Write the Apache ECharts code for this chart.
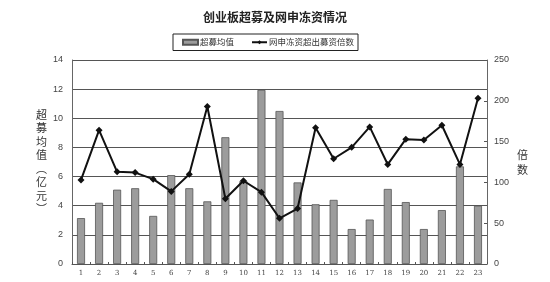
<!DOCTYPE html>
<html>
<head>
<meta charset="utf-8">
<script src="https://cdn.jsdelivr.net/npm/echarts@6/dist/echarts.min.js"></script>
<style>
  html, body { margin: 0; padding: 0; background: #fff; }
  #chart { width: 550px; height: 282px; }
</style>
</head>
<body>
<div id="chart"></div>
<script>
// Batch numbers 1..23
const categories = ['1','2','3','4','5','6','7','8','9','10','11','12','13','14','15','16','17','18','19','20','21','22','23'];
// Average over-raised funds per company (100 million yuan)
const overRaiseAvg = [3.15, 4.2, 5.1, 5.2, 3.3, 6.1, 5.2, 4.3, 8.7, 5.7, 11.95, 10.5, 5.6, 4.1, 4.4, 2.4, 3.05, 5.15, 4.25, 2.4, 3.7, 6.7, 4.0];
// Frozen online subscription funds as a multiple of funds raised
const frozenMultiple = [103, 164, 113, 112, 104, 89, 110, 193, 80, 102, 88, 56, 68, 167, 129, 143, 168, 122, 153, 152, 170, 122, 203];

const leftTitle = ['超', '募', '均', '值', '︵', '亿', '元', '︶'];
const rightTitle = ['倍', '数'];

const cjk = '"Noto Sans CJK SC", "Noto Sans", sans-serif';
const chart = echarts.init(document.getElementById('chart'), null, { renderer: 'canvas' });

chart.setOption({
  animation: false,
  backgroundColor: '#ffffff',
  title: {
    text: '创业板超募及网申冻资情况',
    left: 'center',
    top: 6,
    textStyle: { fontFamily: cjk, fontSize: 12, fontWeight: 'bold', color: '#222' }
  },
  legend: {
    top: 34,
    left: 173,
    itemWidth: 15,
    itemHeight: 5,
    itemGap: 17,
    padding: [4, 4, 4, 9],
    borderColor: '#222',
    borderWidth: 1,
    borderRadius: 0,
    textStyle: { fontFamily: cjk, fontSize: 8.5, color: '#333', padding: [0, 0, 0, -3] },
    data: [
      { name: '超募均值', icon: 'rect' },
      { name: '网申冻资超出募资倍数' }
    ]
  },
  grid: { left: 72, right: 63, top: 60, bottom: 18 },
  xAxis: {
    type: 'category',
    data: categories,
    axisLine: { lineStyle: { color: '#555', width: 1 } },
    axisTick: { show: true, inside: true, length: 2, lineStyle: { color: '#555' } },
    axisLabel: { fontFamily: '"DejaVu Serif", serif', fontSize: 7, color: '#444', margin: 6 }
  },
  yAxis: [
    {
      type: 'value',
      min: 0, max: 14, interval: 2,
      name: leftTitle.join('\n'),
      nameLocation: 'middle',
      nameRotate: 0,
      nameGap: 23,
      nameTextStyle: { fontFamily: cjk, fontSize: 11, color: '#333', lineHeight: 13.5 },
      axisLine: { show: true, lineStyle: { color: '#666' } },
      axisTick: { show: false },
      axisLabel: { fontFamily: '"Liberation Sans", sans-serif', fontSize: 9, color: '#444', margin: 9 },
      splitLine: { show: true, lineStyle: { color: '#555', width: 1 } }
    },
    {
      type: 'value',
      min: 0, max: 250, interval: 50,
      name: rightTitle.join('\n'),
      nameLocation: 'middle',
      nameRotate: 0,
      nameGap: 30,
      nameTextStyle: { fontFamily: cjk, fontSize: 11, color: '#333', lineHeight: 15 },
      axisLine: { show: true, lineStyle: { color: '#666' } },
      axisTick: { show: true, inside: true, length: 3, lineStyle: { color: '#555' } },
      axisLabel: { fontFamily: '"Liberation Sans", sans-serif', fontSize: 9, color: '#444', margin: 7 },
      splitLine: { show: false }
    }
  ],
  series: [
    {
      name: '超募均值',
      type: 'bar',
      yAxisIndex: 0,
      data: overRaiseAvg,
      barWidth: 8,
      itemStyle: { color: '#9c9c9c', borderColor: '#555', borderWidth: 0.8 }
    },
    {
      name: '网申冻资超出募资倍数',
      type: 'line',
      yAxisIndex: 1,
      data: frozenMultiple,
      symbol: 'diamond',
      symbolSize: 7,
      showAllSymbol: true,
      lineStyle: { color: '#111', width: 2 },
      itemStyle: { color: '#111' }
    }
  ]
});
</script>
</body>
</html>
